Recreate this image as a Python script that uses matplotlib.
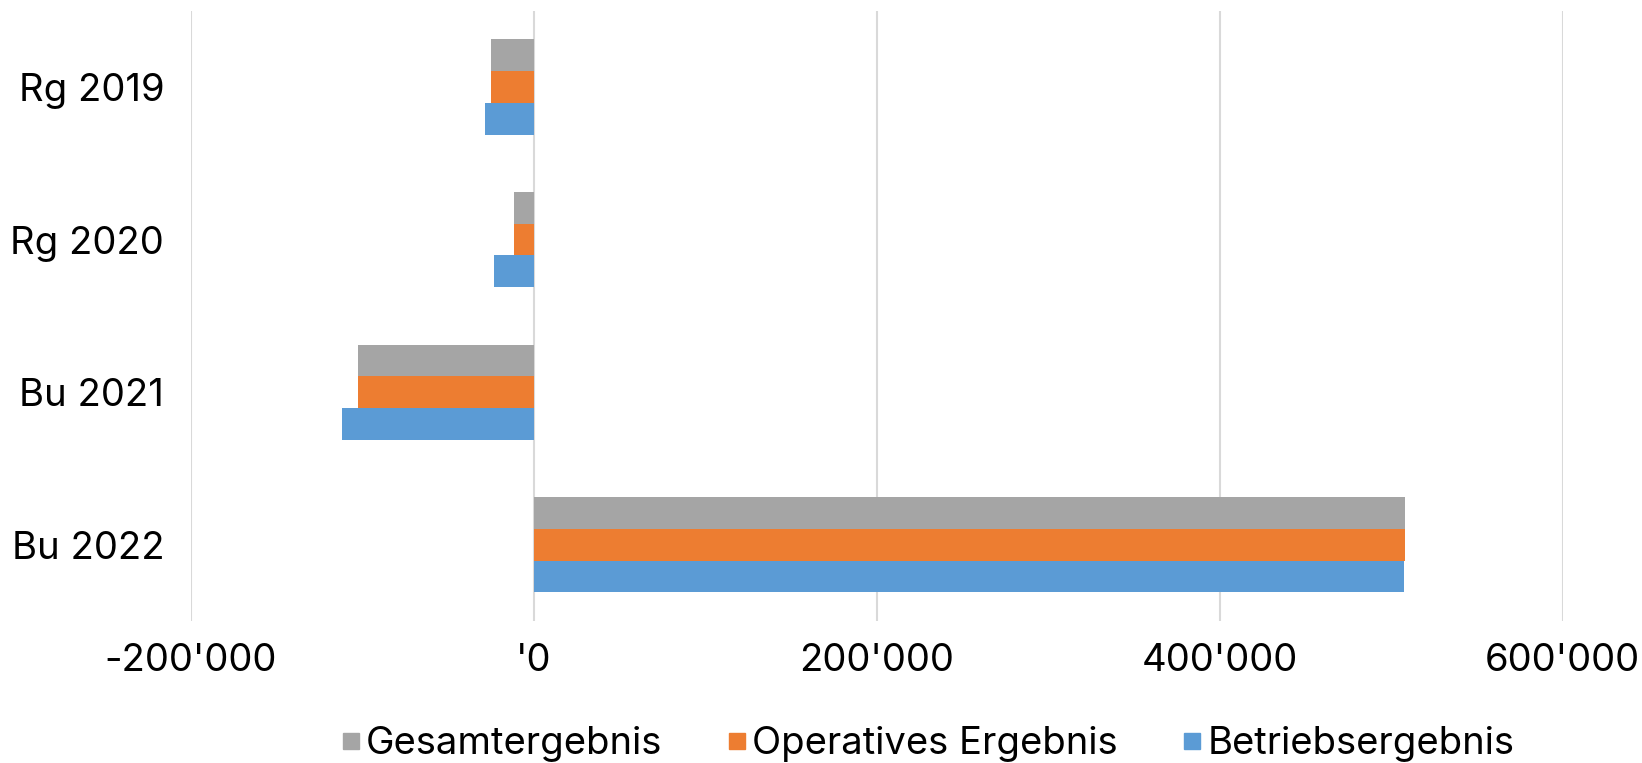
import matplotlib
matplotlib.use("Agg")
import matplotlib.pyplot as plt
from matplotlib.lines import Line2D
import numpy as np

plt.rcParams['font.family'] = ['Inter', 'DejaVu Sans']

categories = ["Rg 2019", "Rg 2020", "Bu 2021", "Bu 2022"]
betriebsergebnis = [-28600, -23300, -111600, 507300]
operatives_ergebnis = [-24700, -11300, -102500, 508000]
gesamtergebnis = [-24700, -11300, -102500, 508100]
x_ticks = [-200000, 0, 200000, 400000, 600000]
x_tick_labels = ["-200'000", "'0", "200'000", "400'000", "600'000"]

c_gray = "#A5A5A5"
c_orange = "#ED7D31"
c_blue = "#5B9BD5"

fig = plt.figure(figsize=(16.42, 7.63), dpi=100)
ax = fig.add_axes([0.1161, 0.186, 0.8355, 0.800])

y = np.arange(len(categories))
h = 0.208
ax.barh(y - h, gesamtergebnis, height=h, color=c_gray, zorder=3)
ax.barh(y, operatives_ergebnis, height=h, color=c_orange, zorder=3)
ax.barh(y + h, betriebsergebnis, height=h, color=c_blue, zorder=3)

ax.set_xlim(-200000, 600000)
ax.set_ylim(len(categories) - 0.5, -0.5)
ax.set_xticks(x_ticks)
ax.set_xticklabels(x_tick_labels)
ax.set_yticks(y)
ax.set_yticklabels(categories)
ax.tick_params(axis='both', length=0, labelsize=27.5, colors='black')
ax.tick_params(axis='x', pad=16)
ax.tick_params(axis='y', pad=19)
ax.grid(axis='x', color='#D9D9D9', linewidth=1.5, zorder=0)
for s in ax.spines.values():
    s.set_visible(False)

handles = [
    Line2D([], [], marker='s', linestyle='', color=c_gray, markersize=11.5),
    Line2D([], [], marker='s', linestyle='', color=c_orange, markersize=11.5),
    Line2D([], [], marker='s', linestyle='', color=c_blue, markersize=11.5),
]
labels = ["Gesamtergebnis", "Operatives Ergebnis", "Betriebsergebnis"]
fig.legend(handles, labels, loc='center', bbox_to_anchor=(0.564, 0.025), ncol=3,
           frameon=False, fontsize=27.5, handletextpad=0.05, columnspacing=1.6,
           handlelength=0.7)

fig.savefig("out.png", dpi=100)
